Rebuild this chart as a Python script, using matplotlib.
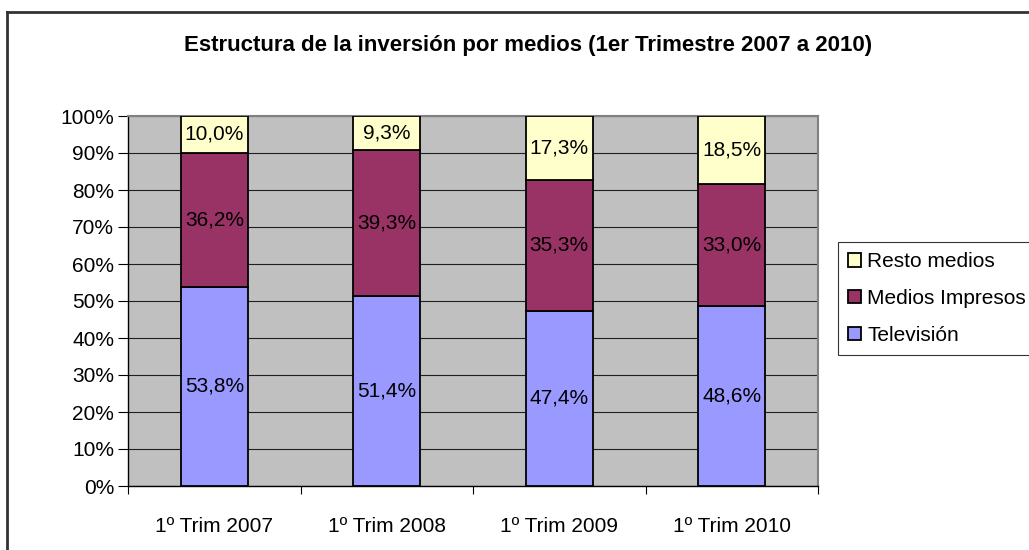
import numpy as np
import matplotlib.pyplot as plt
from matplotlib.patches import Patch
from matplotlib.lines import Line2D

plt.rcParams['font.family'] = ['Liberation Sans', 'DejaVu Sans']

# Data
categorias = ['1º Trim 2007', '1º Trim 2008', '1º Trim 2009', '1º Trim 2010']
television = [53.8, 51.4, 47.4, 48.6]
impresos = [36.2, 39.3, 35.3, 33.0]
resto = [10.0, 9.3, 17.3, 18.5]
series_names = ['Televisión', 'Medios Impresos', 'Resto medios']
colors = ['#9999FF', '#993366', '#FFFFCC']

W, H = 1029, 550
fig = plt.figure(figsize=(W / 100, H / 100), dpi=100)

# chart border (cut on right and bottom like the original)
fig.add_artist(Line2D([7 / W, 7 / W], [0, 1 - 12 / H], color='#333333', lw=2))
fig.add_artist(Line2D([7 / W, 1], [1 - 12 / H, 1 - 12 / H], color='#333333', lw=2))

# plot area in pixels
left, right, top, bottom = 128, 818, 116, 486
ax = fig.add_axes([left / W, 1 - bottom / H, (right - left) / W, (bottom - top) / H])
ax.set_facecolor('#C0C0C0')

x = np.arange(len(categorias))
width = 0.39
bottoms = np.zeros(len(categorias))
for vals, name, col in zip([television, impresos, resto], series_names, colors):
    vals = np.array(vals)
    ax.bar(x, vals, width, bottom=bottoms, color=col, edgecolor='black',
           linewidth=1.3, label=name, zorder=3)
    for xi, b, v in zip(x, bottoms, vals):
        ax.text(xi, b + v / 2, f"{v:.1f}%".replace('.', ','), ha='center',
                va='center', fontsize=15, zorder=4)
    bottoms += vals

ax.set_ylim(0, 100)
ax.set_xlim(-0.5, len(categorias) - 0.5)
ax.set_yticks(np.arange(0, 101, 10))
ax.set_yticklabels([f"{v}%" for v in range(0, 101, 10)], fontsize=15)
ax.yaxis.grid(True, color='#202020', linewidth=0.8, zorder=0)
ax.set_axisbelow(True)

ax.set_xticks(np.arange(-0.5, len(categorias), 1.0))
ax.set_xticklabels([])
ax.set_xticks(x, minor=True)
ax.set_xticklabels(categorias, minor=True, fontsize=15)
ax.tick_params(axis='x', which='minor', length=0, pad=22)
ax.tick_params(axis='x', which='major', length=6, color='black')
ax.tick_params(axis='y', length=7, pad=3, color='black')

for s in ['top', 'right']:
    ax.spines[s].set_color('#808080')
    ax.spines[s].set_linewidth(1.5)
for s in ['left', 'bottom']:
    ax.spines[s].set_color('black')
    ax.spines[s].set_linewidth(1.0)

fig.text(528 / W, 1 - 45 / H, 'Estructura de la inversión por medios (1er Trimestre 2007 a 2010)',
         ha='center', va='center', fontsize=16, fontweight='bold')

handles = [Patch(facecolor=c, edgecolor='black', linewidth=1.3) for c in colors]
leg = fig.legend(handles[::-1], series_names[::-1], loc='upper left',
                 bbox_to_anchor=(838 / W, 1 - 242 / H), fontsize=15,
                 frameon=True, fancybox=False, edgecolor='black',
                 handlelength=0.6, handleheight=0.6, handletextpad=0.3,
                 labelspacing=0.85, borderpad=0.5, borderaxespad=0)
leg.get_frame().set_linewidth(0.8)

fig.savefig('out.png', dpi=100, facecolor='white')
